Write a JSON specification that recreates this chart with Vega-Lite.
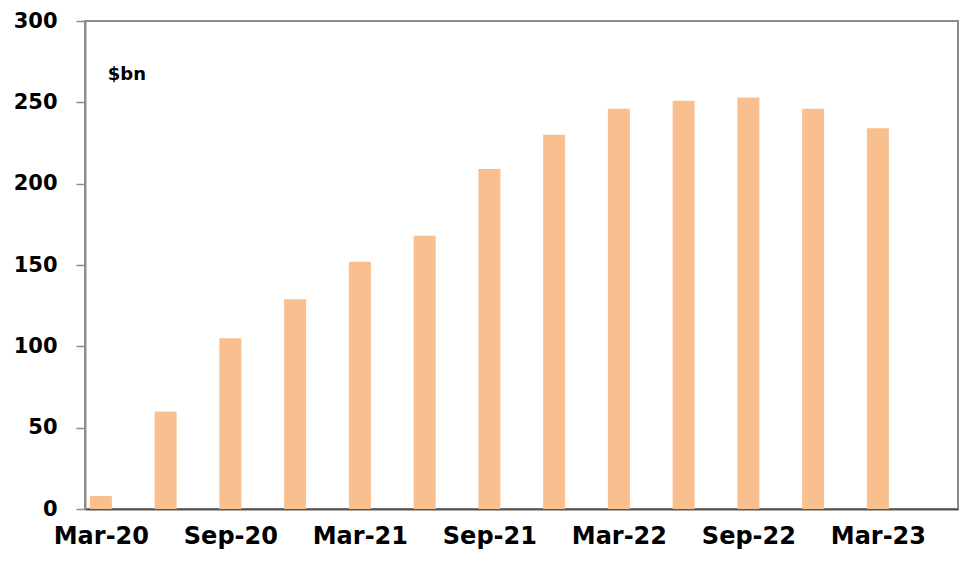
{
  "$schema": "https://vega.github.io/schema/vega-lite/v6.json",
  "width": 873,
  "height": 488,
  "autosize": {"type": "none"},
  "padding": {"left": 85, "top": 21, "right": 21, "bottom": 54},
  "background": "white",
  "config": {
    "view": {"stroke": "#8c8c8c", "strokeWidth": 2},
    "font": "DejaVu Sans"
  },
  "layer": [
    {
      "data": {
        "values": [
          {"q": 0, "quarter": "Mar-20", "value": 8},
          {"q": 1, "quarter": "Jun-20", "value": 60},
          {"q": 2, "quarter": "Sep-20", "value": 105},
          {"q": 3, "quarter": "Dec-20", "value": 129},
          {"q": 4, "quarter": "Mar-21", "value": 152},
          {"q": 5, "quarter": "Jun-21", "value": 168},
          {"q": 6, "quarter": "Sep-21", "value": 209},
          {"q": 7, "quarter": "Dec-21", "value": 230},
          {"q": 8, "quarter": "Mar-22", "value": 246},
          {"q": 9, "quarter": "Jun-22", "value": 251},
          {"q": 10, "quarter": "Sep-22", "value": 253},
          {"q": 11, "quarter": "Dec-22", "value": 246},
          {"q": 12, "quarter": "Mar-23", "value": 234}
        ]
      },
      "mark": {"type": "bar", "color": "#F9BF8F", "size": 22},
      "encoding": {
        "x": {
          "field": "q",
          "type": "quantitative",
          "scale": {"domain": [-0.168, 13.16], "nice": false, "zero": false},
          "axis": {
            "values": [0, 2, 4, 6, 8, 10, 12],
            "labelExpr": "['Mar-20','Sep-20','Mar-21','Sep-21','Mar-22','Sep-22','Mar-23'][round(datum.value / 2)]",
            "title": null,
            "grid": false,
            "ticks": false,
            "domainColor": "#555555",
            "domainWidth": 2,
            "labelFont": "DejaVu Sans",
            "labelFontWeight": "bold",
            "labelFontSize": 24,
            "labelColor": "#000000",
            "labelPadding": 15,
            "labelFlush": false,
            "labelOverlap": false
          }
        },
        "y": {
          "field": "value",
          "type": "quantitative",
          "scale": {"domain": [0, 300], "nice": false},
          "axis": {
            "values": [0, 50, 100, 150, 200, 250, 300],
            "title": null,
            "grid": false,
            "tickColor": "#8c8c8c",
            "tickSize": 9,
            "tickWidth": 1.5,
            "domainColor": "#8c8c8c",
            "domainWidth": 2,
            "labelFont": "DejaVu Sans",
            "labelFontWeight": "bold",
            "labelFontSize": 21,
            "labelColor": "#000000",
            "labelPadding": 19
          }
        }
      }
    },
    {
      "data": {"values": [{"q": 0.107, "value": 267, "label": "$bn"}]},
      "mark": {"type": "text", "align": "left", "baseline": "middle", "fontWeight": "bold", "fontSize": 18, "font": "DejaVu Sans", "color": "#000000"},
      "encoding": {
        "x": {"field": "q", "type": "quantitative"},
        "y": {"field": "value", "type": "quantitative"},
        "text": {"field": "label"}
      }
    }
  ]
}
